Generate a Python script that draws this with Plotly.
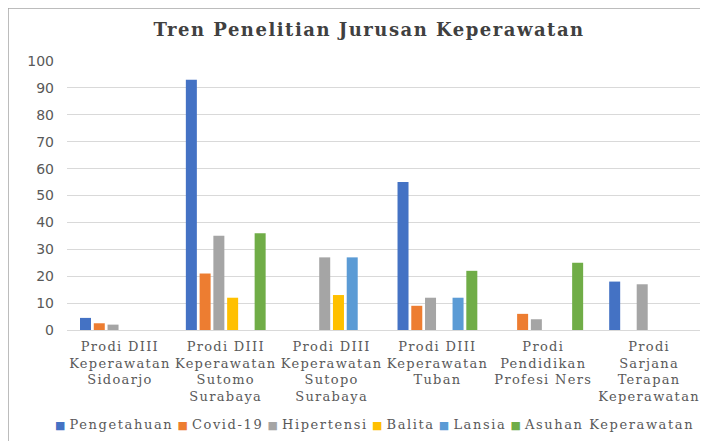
import plotly.graph_objects as go

# Program studi (x categories), one list entry per label line
categories = [
    ["Prodi DIII", "Keperawatan", "Sidoarjo"],
    ["Prodi DIII", "Keperawatan", "Sutomo", "Surabaya"],
    ["Prodi DIII", "Keperawatan", "Sutopo", "Surabaya"],
    ["Prodi DIII", "Keperawatan", "Tuban"],
    ["Prodi", "Pendidikan", "Profesi Ners"],
    ["Prodi", "Sarjana", "Terapan", "Keperawatan"],
]

pengetahuan = [4.5, 93, None, 55, None, 18]
covid19 = [2.5, 21, None, 9, 6, None]
hipertensi = [2, 35, 27, 12, 4, 17]
balita = [None, 12, 13, None, None, None]
lansia = [None, None, 27, 12, None, None]
asuhan = [None, 36, None, 22, 25, None]

series = [
    ("Pengetahuan", pengetahuan, "#4472C4"),
    ("Covid-19", covid19, "#ED7D31"),
    ("Hipertensi", hipertensi, "#A5A5A5"),
    ("Balita", balita, "#FFC000"),
    ("Lansia", lansia, "#5B9BD5"),
    ("Asuhan Keperawatan", asuhan, "#70AD47"),
]

y_ticks = [0, 10, 20, 30, 40, 50, 60, 70, 80, 90, 100]

SERIF = "DejaVu Serif"
SANS = "DejaVu Sans"
TEXT_GRAY = "#595959"

# the page body adds an 8px offset, so margins are 8px smaller than the target
PLOT_W, PLOT_H = 635, 269


def spaced(text, px):
    # widen the serif text a little, the original font runs wide
    return f"<span style='letter-spacing:{px}px'>{text}</span>"


cat_keys = [" ".join(lines) for lines in categories]
cat_text = ["<br>".join(spaced(l, 1.3) for l in lines) for lines in categories]

fig = go.Figure()
for name, vals, color in series:
    fig.add_trace(go.Bar(
        x=cat_keys,
        y=vals,
        name=name,
        marker=dict(color=color, line=dict(width=0)),
    ))

fig.update_layout(
    width=708,
    height=441,
    barmode="group",
    bargap=0.22,
    bargroupgap=0.2,
    showlegend=False,
    plot_bgcolor="white",
    paper_bgcolor="white",
    margin=dict(l=59, r=14, t=53, b=119, autoexpand=False),
    title=dict(
        text="<b>" + spaced("Tren Penelitian Jurusan Keperawatan", 1.5) + "</b>",
        x=0.51, xanchor="center",
        y=0.95, yanchor="middle",
        font=dict(family=SERIF, size=18, color="#404040"),
    ),
    xaxis=dict(
        tickvals=cat_keys,
        ticktext=cat_text,
        showgrid=False,
        showline=True,
        linecolor="#D9D9D9",
        linewidth=1,
        ticks="",
        automargin=False,
        ticklabelstandoff=4,
        tickfont=dict(family=SERIF, size=13, color=TEXT_GRAY),
    ),
    yaxis=dict(
        range=[0, 100],
        tickvals=y_ticks,
        showgrid=True,
        gridcolor="#D9D9D9",
        gridwidth=1,
        zeroline=False,
        ticks="",
        automargin=False,
        ticklabelstandoff=12,
        tickfont=dict(family=SANS, size=14, color=TEXT_GRAY),
    ),
)

# legend drawn as one centred line: small coloured squares + names
legend_text = " ".join(
    f"<span style='color:{color};font-size:11px'>■</span> " + spaced(name, 1.6)
    for name, _, color in series
)
fig.add_annotation(
    text=legend_text, xref="paper", yref="paper",
    x=(366 - 59) / PLOT_W, y=-(416 - 322) / PLOT_H,
    xanchor="center", yanchor="middle",
    showarrow=False,
    font=dict(family=SERIF, size=13, color=TEXT_GRAY),
)

# outer chart frame
fig.add_shape(
    type="rect", xref="paper", yref="paper",
    x0=-59 / PLOT_W, x1=1.03, y0=-125 / PLOT_H, y1=1 + 53 / PLOT_H,
    line=dict(color="#A6A6A6", width=1.5), fillcolor="rgba(0,0,0,0)",
)

fig.write_html("out.html")
